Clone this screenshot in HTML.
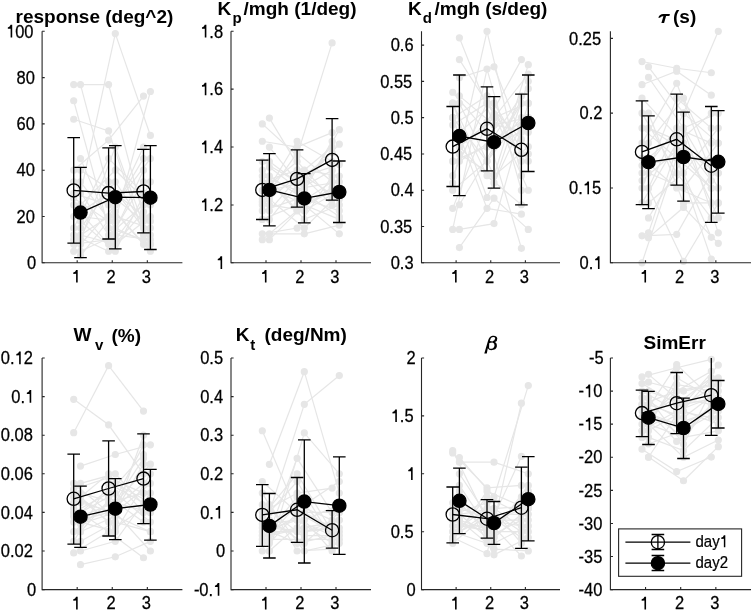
<!DOCTYPE html>
<html><head><meta charset="utf-8"><style>
html,body{margin:0;padding:0;background:#fff;width:751px;height:610px;overflow:hidden}
svg{display:block;will-change:transform}
.tl{font-family:"Liberation Sans",sans-serif;font-size:16.5px;fill:#000;stroke:#000;stroke-width:0.25px}
.lg{font-family:"Liberation Sans",sans-serif;font-size:15px;fill:#000;stroke:#000;stroke-width:0.2px}
.tt{font-family:"Liberation Sans",sans-serif;font-size:19px;font-weight:bold;fill:#000}
.sub{font-size:15px}
.tau{font-style:italic;font-size:20px}
.beta{font-family:"Liberation Serif",serif;font-style:italic;font-size:20px}
</style></head><body>
<svg width="751" height="610" viewBox="0 0 751 610">
<rect width="751" height="610" fill="#fff"/>
<g stroke="#e6e6e6" fill="#e6e6e6" stroke-width="1.2"><polyline fill="none" points="73.7,84.55 108.6,84.55 143.5,216.5"/><circle cx="73.7" cy="84.55" r="3"/><circle cx="108.6" cy="84.55" r="3"/><circle cx="143.5" cy="216.5" r="3"/><polyline fill="none" points="80.5,84.55 115.3,216.5 150.4,228.08"/><circle cx="80.5" cy="84.55" r="3"/><circle cx="115.3" cy="216.5" r="3"/><circle cx="150.4" cy="228.08" r="3"/><polyline fill="none" points="73.7,100.75 108.6,228.08 143.5,239.65"/><circle cx="73.7" cy="100.75" r="3"/><circle cx="108.6" cy="228.08" r="3"/><circle cx="143.5" cy="239.65" r="3"/><polyline fill="none" points="80.5,193.35 115.3,33.62 150.4,135.47"/><circle cx="80.5" cy="193.35" r="3"/><circle cx="115.3" cy="33.62" r="3"/><circle cx="150.4" cy="135.47" r="3"/><polyline fill="none" points="73.7,119.27 108.6,130.85 143.5,235.02"/><circle cx="73.7" cy="119.27" r="3"/><circle cx="108.6" cy="130.85" r="3"/><circle cx="143.5" cy="235.02" r="3"/><polyline fill="none" points="80.5,216.5 115.3,221.13 150.4,91.49"/><circle cx="80.5" cy="216.5" r="3"/><circle cx="115.3" cy="221.13" r="3"/><circle cx="150.4" cy="91.49" r="3"/><polyline fill="none" points="73.7,170.2 108.6,140.11 143.5,96.12"/><circle cx="73.7" cy="170.2" r="3"/><circle cx="108.6" cy="140.11" r="3"/><circle cx="143.5" cy="96.12" r="3"/><polyline fill="none" points="80.5,239.65 115.3,147.05 150.4,244.28"/><circle cx="80.5" cy="239.65" r="3"/><circle cx="115.3" cy="147.05" r="3"/><circle cx="150.4" cy="244.28" r="3"/><polyline fill="none" points="73.7,181.78 108.6,235.02 143.5,204.93"/><circle cx="73.7" cy="181.78" r="3"/><circle cx="108.6" cy="235.02" r="3"/><circle cx="143.5" cy="204.93" r="3"/><polyline fill="none" points="80.5,158.62 115.3,239.65 150.4,193.35"/><circle cx="80.5" cy="158.62" r="3"/><circle cx="115.3" cy="239.65" r="3"/><circle cx="150.4" cy="193.35" r="3"/><polyline fill="none" points="73.7,193.35 108.6,204.93 143.5,244.28"/><circle cx="73.7" cy="193.35" r="3"/><circle cx="108.6" cy="204.93" r="3"/><circle cx="143.5" cy="244.28" r="3"/><polyline fill="none" points="80.5,228.08 115.3,181.78 150.4,235.02"/><circle cx="80.5" cy="228.08" r="3"/><circle cx="115.3" cy="181.78" r="3"/><circle cx="150.4" cy="235.02" r="3"/><polyline fill="none" points="73.7,204.93 108.6,244.28 143.5,170.2"/><circle cx="73.7" cy="204.93" r="3"/><circle cx="108.6" cy="244.28" r="3"/><circle cx="143.5" cy="170.2" r="3"/><polyline fill="none" points="80.5,244.28 115.3,204.93 150.4,158.62"/><circle cx="80.5" cy="244.28" r="3"/><circle cx="115.3" cy="204.93" r="3"/><circle cx="150.4" cy="158.62" r="3"/><polyline fill="none" points="73.7,216.5 108.6,193.35 143.5,221.13"/><circle cx="73.7" cy="216.5" r="3"/><circle cx="108.6" cy="193.35" r="3"/><circle cx="143.5" cy="221.13" r="3"/><polyline fill="none" points="80.5,235.02 115.3,244.28 150.4,216.5"/><circle cx="80.5" cy="235.02" r="3"/><circle cx="115.3" cy="244.28" r="3"/><circle cx="150.4" cy="216.5" r="3"/><polyline fill="none" points="73.7,228.08 108.6,158.62 143.5,193.35"/><circle cx="73.7" cy="228.08" r="3"/><circle cx="108.6" cy="158.62" r="3"/><circle cx="143.5" cy="193.35" r="3"/><polyline fill="none" points="80.5,251.23 115.3,235.02 150.4,239.65"/><circle cx="80.5" cy="251.23" r="3"/><circle cx="115.3" cy="235.02" r="3"/><circle cx="150.4" cy="239.65" r="3"/><polyline fill="none" points="73.7,239.65 108.6,216.5 143.5,158.62"/><circle cx="73.7" cy="239.65" r="3"/><circle cx="108.6" cy="216.5" r="3"/><circle cx="143.5" cy="158.62" r="3"/><polyline fill="none" points="80.5,204.93 115.3,170.2 150.4,204.93"/><circle cx="80.5" cy="204.93" r="3"/><circle cx="115.3" cy="170.2" r="3"/><circle cx="150.4" cy="204.93" r="3"/><polyline fill="none" points="73.7,244.28 108.6,239.65 143.5,181.78"/><circle cx="73.7" cy="244.28" r="3"/><circle cx="108.6" cy="239.65" r="3"/><circle cx="143.5" cy="181.78" r="3"/><polyline fill="none" points="80.5,221.13 115.3,251.23 150.4,181.78"/><circle cx="80.5" cy="221.13" r="3"/><circle cx="115.3" cy="251.23" r="3"/><circle cx="150.4" cy="181.78" r="3"/><polyline fill="none" points="73.7,251.23 108.6,181.78 143.5,228.08"/><circle cx="73.7" cy="251.23" r="3"/><circle cx="108.6" cy="181.78" r="3"/><circle cx="143.5" cy="228.08" r="3"/><polyline fill="none" points="80.5,181.78 115.3,228.08 150.4,244.28"/><circle cx="80.5" cy="181.78" r="3"/><circle cx="115.3" cy="228.08" r="3"/><circle cx="150.4" cy="244.28" r="3"/><polyline fill="none" points="73.7,197.98 108.6,221.13 143.5,147.05"/><circle cx="73.7" cy="197.98" r="3"/><circle cx="108.6" cy="221.13" r="3"/><circle cx="143.5" cy="147.05" r="3"/><polyline fill="none" points="80.5,170.2 115.3,193.35 150.4,221.13"/><circle cx="80.5" cy="170.2" r="3"/><circle cx="115.3" cy="193.35" r="3"/><circle cx="150.4" cy="221.13" r="3"/><polyline fill="none" points="73.7,235.02 108.6,251.23 143.5,211.87"/><circle cx="73.7" cy="235.02" r="3"/><circle cx="108.6" cy="251.23" r="3"/><circle cx="143.5" cy="211.87" r="3"/><polyline fill="none" points="80.5,255.86 115.3,211.87 150.4,251.23"/><circle cx="80.5" cy="255.86" r="3"/><circle cx="115.3" cy="211.87" r="3"/><circle cx="150.4" cy="251.23" r="3"/></g>
<g stroke="#e6e6e6" fill="#e6e6e6" stroke-width="1.2"><polyline fill="none" points="262.3,123.9 297.1,155.73 332.1,42.88"/><circle cx="262.3" cy="123.9" r="3"/><circle cx="297.1" cy="155.73" r="3"/><circle cx="332.1" cy="42.88" r="3"/><polyline fill="none" points="269.4,118.11 304.3,175.99 339.3,199.14"/><circle cx="269.4" cy="118.11" r="3"/><circle cx="304.3" cy="175.99" r="3"/><circle cx="339.3" cy="199.14" r="3"/><polyline fill="none" points="262.3,141.26 297.1,147.05 332.1,132.58"/><circle cx="262.3" cy="141.26" r="3"/><circle cx="297.1" cy="147.05" r="3"/><circle cx="332.1" cy="132.58" r="3"/><polyline fill="none" points="269.4,147.05 304.3,190.46 339.3,129.69"/><circle cx="269.4" cy="147.05" r="3"/><circle cx="304.3" cy="190.46" r="3"/><circle cx="339.3" cy="129.69" r="3"/><polyline fill="none" points="262.3,239.65 297.1,210.71 332.1,190.46"/><circle cx="262.3" cy="239.65" r="3"/><circle cx="297.1" cy="210.71" r="3"/><circle cx="332.1" cy="190.46" r="3"/><polyline fill="none" points="269.4,233.86 304.3,233.86 339.3,225.18"/><circle cx="269.4" cy="233.86" r="3"/><circle cx="304.3" cy="233.86" r="3"/><circle cx="339.3" cy="225.18" r="3"/><polyline fill="none" points="262.3,204.93 297.1,175.99 332.1,147.05"/><circle cx="262.3" cy="204.93" r="3"/><circle cx="297.1" cy="175.99" r="3"/><circle cx="332.1" cy="147.05" r="3"/><polyline fill="none" points="269.4,190.46 304.3,181.78 339.3,144.16"/><circle cx="269.4" cy="190.46" r="3"/><circle cx="304.3" cy="181.78" r="3"/><circle cx="339.3" cy="144.16" r="3"/><polyline fill="none" points="262.3,175.99 297.1,190.46 332.1,170.2"/><circle cx="262.3" cy="175.99" r="3"/><circle cx="297.1" cy="190.46" r="3"/><circle cx="332.1" cy="170.2" r="3"/><polyline fill="none" points="269.4,204.93 304.3,210.71 339.3,190.46"/><circle cx="269.4" cy="204.93" r="3"/><circle cx="304.3" cy="210.71" r="3"/><circle cx="339.3" cy="190.46" r="3"/><polyline fill="none" points="262.3,219.39 297.1,204.93 332.1,181.78"/><circle cx="262.3" cy="219.39" r="3"/><circle cx="297.1" cy="204.93" r="3"/><circle cx="332.1" cy="181.78" r="3"/><polyline fill="none" points="269.4,175.99 304.3,199.14 339.3,210.71"/><circle cx="269.4" cy="175.99" r="3"/><circle cx="304.3" cy="199.14" r="3"/><circle cx="339.3" cy="210.71" r="3"/><polyline fill="none" points="262.3,190.46 297.1,161.52 332.1,199.14"/><circle cx="262.3" cy="190.46" r="3"/><circle cx="297.1" cy="161.52" r="3"/><circle cx="332.1" cy="199.14" r="3"/><polyline fill="none" points="269.4,210.71 304.3,170.2 339.3,175.99"/><circle cx="269.4" cy="210.71" r="3"/><circle cx="304.3" cy="170.2" r="3"/><circle cx="339.3" cy="175.99" r="3"/><polyline fill="none" points="262.3,161.52 297.1,181.78 332.1,152.84"/><circle cx="262.3" cy="161.52" r="3"/><circle cx="297.1" cy="181.78" r="3"/><circle cx="332.1" cy="152.84" r="3"/><polyline fill="none" points="269.4,181.78 304.3,219.39 339.3,204.93"/><circle cx="269.4" cy="181.78" r="3"/><circle cx="304.3" cy="219.39" r="3"/><circle cx="339.3" cy="204.93" r="3"/><polyline fill="none" points="262.3,233.86 297.1,228.07 332.1,175.99"/><circle cx="262.3" cy="233.86" r="3"/><circle cx="297.1" cy="228.07" r="3"/><circle cx="332.1" cy="175.99" r="3"/><polyline fill="none" points="269.4,239.65 304.3,204.93 339.3,219.39"/><circle cx="269.4" cy="239.65" r="3"/><circle cx="304.3" cy="204.93" r="3"/><circle cx="339.3" cy="219.39" r="3"/><polyline fill="none" points="262.3,199.14 297.1,141.26 332.1,161.52"/><circle cx="262.3" cy="199.14" r="3"/><circle cx="297.1" cy="141.26" r="3"/><circle cx="332.1" cy="161.52" r="3"/><polyline fill="none" points="269.4,161.52 304.3,187.56 339.3,181.78"/><circle cx="269.4" cy="161.52" r="3"/><circle cx="304.3" cy="187.56" r="3"/><circle cx="339.3" cy="181.78" r="3"/><polyline fill="none" points="262.3,181.78 297.1,170.2 332.1,204.93"/><circle cx="262.3" cy="181.78" r="3"/><circle cx="297.1" cy="170.2" r="3"/><circle cx="332.1" cy="204.93" r="3"/><polyline fill="none" points="269.4,199.14 304.3,228.07 339.3,193.35"/><circle cx="269.4" cy="199.14" r="3"/><circle cx="304.3" cy="228.07" r="3"/><circle cx="339.3" cy="193.35" r="3"/><polyline fill="none" points="262.3,210.71 297.1,199.14 332.1,141.26"/><circle cx="262.3" cy="210.71" r="3"/><circle cx="297.1" cy="199.14" r="3"/><circle cx="332.1" cy="141.26" r="3"/><polyline fill="none" points="269.4,219.39 304.3,175.99 339.3,164.41"/><circle cx="269.4" cy="219.39" r="3"/><circle cx="304.3" cy="175.99" r="3"/><circle cx="339.3" cy="164.41" r="3"/><polyline fill="none" points="262.3,170.2 297.1,210.71 332.1,187.56"/><circle cx="262.3" cy="170.2" r="3"/><circle cx="297.1" cy="210.71" r="3"/><circle cx="332.1" cy="187.56" r="3"/><polyline fill="none" points="269.4,187.56 304.3,204.93 339.3,233.86"/><circle cx="269.4" cy="187.56" r="3"/><circle cx="304.3" cy="204.93" r="3"/><circle cx="339.3" cy="233.86" r="3"/><polyline fill="none" points="262.3,202.03 297.1,152.84 332.1,181.78"/><circle cx="262.3" cy="202.03" r="3"/><circle cx="297.1" cy="152.84" r="3"/><circle cx="332.1" cy="181.78" r="3"/><polyline fill="none" points="269.4,167.31 304.3,193.35 339.3,216.5"/><circle cx="269.4" cy="167.31" r="3"/><circle cx="304.3" cy="193.35" r="3"/><circle cx="339.3" cy="216.5" r="3"/></g>
<g stroke="#e6e6e6" fill="#e6e6e6" stroke-width="1.2"><polyline fill="none" points="452.7,182.97 487,31.3 521.4,175.72"/><circle cx="452.7" cy="182.97" r="3"/><circle cx="487" cy="31.3" r="3"/><circle cx="521.4" cy="175.72" r="3"/><polyline fill="none" points="459.4,37.83 494,124.92 528.3,117.66"/><circle cx="459.4" cy="37.83" r="3"/><circle cx="494" cy="124.92" r="3"/><circle cx="528.3" cy="117.66" r="3"/><polyline fill="none" points="452.7,208.37 487,122.01 521.4,59.6"/><circle cx="452.7" cy="208.37" r="3"/><circle cx="487" cy="122.01" r="3"/><circle cx="521.4" cy="59.6" r="3"/><polyline fill="none" points="459.4,59.6 494,114.03 528.3,190.23"/><circle cx="459.4" cy="59.6" r="3"/><circle cx="494" cy="114.03" r="3"/><circle cx="528.3" cy="190.23" r="3"/><polyline fill="none" points="452.7,229.42 487,69.04 521.4,190.23"/><circle cx="452.7" cy="229.42" r="3"/><circle cx="487" cy="69.04" r="3"/><circle cx="521.4" cy="190.23" r="3"/><polyline fill="none" points="459.4,229.42 494,223.61 528.3,103.14"/><circle cx="459.4" cy="229.42" r="3"/><circle cx="494" cy="223.61" r="3"/><circle cx="528.3" cy="103.14" r="3"/><polyline fill="none" points="452.7,117.66 487,208.37 521.4,214.18"/><circle cx="452.7" cy="117.66" r="3"/><circle cx="487" cy="208.37" r="3"/><circle cx="521.4" cy="214.18" r="3"/><polyline fill="none" points="459.4,247.56 494,198.21 528.3,229.42"/><circle cx="459.4" cy="247.56" r="3"/><circle cx="494" cy="198.21" r="3"/><circle cx="528.3" cy="229.42" r="3"/><polyline fill="none" points="452.7,92.26 487,132.17 521.4,248.29"/><circle cx="452.7" cy="92.26" r="3"/><circle cx="487" cy="132.17" r="3"/><circle cx="521.4" cy="248.29" r="3"/><polyline fill="none" points="459.4,77.75 494,66.86 528.3,153.94"/><circle cx="459.4" cy="77.75" r="3"/><circle cx="494" cy="66.86" r="3"/><circle cx="528.3" cy="153.94" r="3"/><polyline fill="none" points="452.7,175.72 487,103.14 521.4,153.94"/><circle cx="452.7" cy="175.72" r="3"/><circle cx="487" cy="103.14" r="3"/><circle cx="521.4" cy="153.94" r="3"/><polyline fill="none" points="459.4,153.94 494,175.72 528.3,64.68"/><circle cx="459.4" cy="153.94" r="3"/><circle cx="494" cy="175.72" r="3"/><circle cx="528.3" cy="64.68" r="3"/><polyline fill="none" points="452.7,117.66 487,161.2 521.4,117.66"/><circle cx="452.7" cy="117.66" r="3"/><circle cx="487" cy="161.2" r="3"/><circle cx="521.4" cy="117.66" r="3"/><polyline fill="none" points="459.4,95.89 494,124.92 528.3,132.17"/><circle cx="459.4" cy="95.89" r="3"/><circle cx="494" cy="124.92" r="3"/><circle cx="528.3" cy="132.17" r="3"/><polyline fill="none" points="452.7,124.92 487,103.14 521.4,139.43"/><circle cx="452.7" cy="124.92" r="3"/><circle cx="487" cy="103.14" r="3"/><circle cx="521.4" cy="139.43" r="3"/><polyline fill="none" points="459.4,161.2 494,139.43 528.3,117.66"/><circle cx="459.4" cy="161.2" r="3"/><circle cx="494" cy="139.43" r="3"/><circle cx="528.3" cy="117.66" r="3"/><polyline fill="none" points="452.7,161.2 487,146.69 521.4,95.89"/><circle cx="452.7" cy="161.2" r="3"/><circle cx="487" cy="146.69" r="3"/><circle cx="521.4" cy="95.89" r="3"/><polyline fill="none" points="459.4,103.14 494,175.72 528.3,146.69"/><circle cx="459.4" cy="103.14" r="3"/><circle cx="494" cy="175.72" r="3"/><circle cx="528.3" cy="146.69" r="3"/><polyline fill="none" points="452.7,103.14 487,175.72 521.4,204.74"/><circle cx="452.7" cy="103.14" r="3"/><circle cx="487" cy="175.72" r="3"/><circle cx="521.4" cy="204.74" r="3"/><polyline fill="none" points="459.4,132.17 494,103.14 528.3,161.2"/><circle cx="459.4" cy="132.17" r="3"/><circle cx="494" cy="103.14" r="3"/><circle cx="528.3" cy="161.2" r="3"/><polyline fill="none" points="452.7,161.2 487,146.69 521.4,132.17"/><circle cx="452.7" cy="161.2" r="3"/><circle cx="487" cy="146.69" r="3"/><circle cx="521.4" cy="132.17" r="3"/><polyline fill="none" points="459.4,146.69 494,182.97 528.3,81.37"/><circle cx="459.4" cy="146.69" r="3"/><circle cx="494" cy="182.97" r="3"/><circle cx="528.3" cy="81.37" r="3"/><polyline fill="none" points="452.7,117.66 487,95.89 521.4,161.2"/><circle cx="452.7" cy="117.66" r="3"/><circle cx="487" cy="95.89" r="3"/><circle cx="521.4" cy="161.2" r="3"/><polyline fill="none" points="459.4,146.69 494,117.66 528.3,103.14"/><circle cx="459.4" cy="146.69" r="3"/><circle cx="494" cy="117.66" r="3"/><circle cx="528.3" cy="103.14" r="3"/><polyline fill="none" points="452.7,190.23 487,161.2 521.4,103.14"/><circle cx="452.7" cy="190.23" r="3"/><circle cx="487" cy="161.2" r="3"/><circle cx="521.4" cy="103.14" r="3"/><polyline fill="none" points="459.4,204.74 494,146.69 528.3,88.63"/><circle cx="459.4" cy="204.74" r="3"/><circle cx="494" cy="146.69" r="3"/><circle cx="528.3" cy="88.63" r="3"/><polyline fill="none" points="452.7,103.14 487,197.49 521.4,124.92"/><circle cx="452.7" cy="103.14" r="3"/><circle cx="487" cy="197.49" r="3"/><circle cx="521.4" cy="124.92" r="3"/><polyline fill="none" points="459.4,146.69 494,117.66 528.3,74.12"/><circle cx="459.4" cy="146.69" r="3"/><circle cx="494" cy="117.66" r="3"/><circle cx="528.3" cy="74.12" r="3"/></g>
<g stroke="#e6e6e6" fill="#e6e6e6" stroke-width="1.2"><polyline fill="none" points="642,61.53 676.7,68.26 711.3,72.75"/><circle cx="642" cy="61.53" r="3"/><circle cx="676.7" cy="68.26" r="3"/><circle cx="711.3" cy="72.75" r="3"/><polyline fill="none" points="648.5,66.77 683.5,113.16 718.3,31.3"/><circle cx="648.5" cy="66.77" r="3"/><circle cx="683.5" cy="113.16" r="3"/><circle cx="718.3" cy="31.3" r="3"/><polyline fill="none" points="642,84.72 676.7,71.26 711.3,95.2"/><circle cx="642" cy="84.72" r="3"/><circle cx="676.7" cy="71.26" r="3"/><circle cx="711.3" cy="95.2" r="3"/><polyline fill="none" points="648.5,77.24 683.5,128.12 718.3,113.16"/><circle cx="648.5" cy="77.24" r="3"/><circle cx="683.5" cy="128.12" r="3"/><circle cx="718.3" cy="113.16" r="3"/><polyline fill="none" points="642,235.86 676.7,234.37 711.3,173.01"/><circle cx="642" cy="235.86" r="3"/><circle cx="676.7" cy="234.37" r="3"/><circle cx="711.3" cy="173.01" r="3"/><polyline fill="none" points="648.5,237.66 683.5,207.43 718.3,243.35"/><circle cx="648.5" cy="237.66" r="3"/><circle cx="683.5" cy="207.43" r="3"/><circle cx="718.3" cy="243.35" r="3"/><polyline fill="none" points="642,262.8 676.7,158.05 711.3,259.06"/><circle cx="642" cy="262.8" r="3"/><circle cx="676.7" cy="158.05" r="3"/><circle cx="711.3" cy="259.06" r="3"/><polyline fill="none" points="648.5,187.98 683.5,261.3 718.3,202.94"/><circle cx="648.5" cy="187.98" r="3"/><circle cx="683.5" cy="261.3" r="3"/><circle cx="718.3" cy="202.94" r="3"/><polyline fill="none" points="642,128.12 676.7,158.05 711.3,187.98"/><circle cx="642" cy="128.12" r="3"/><circle cx="676.7" cy="158.05" r="3"/><circle cx="711.3" cy="187.98" r="3"/><polyline fill="none" points="648.5,143.08 683.5,98.19 718.3,173.01"/><circle cx="648.5" cy="143.08" r="3"/><circle cx="683.5" cy="98.19" r="3"/><circle cx="718.3" cy="173.01" r="3"/><polyline fill="none" points="642,173.01 676.7,128.12 711.3,143.08"/><circle cx="642" cy="173.01" r="3"/><circle cx="676.7" cy="128.12" r="3"/><circle cx="711.3" cy="143.08" r="3"/><polyline fill="none" points="648.5,202.94 683.5,173.01 718.3,128.12"/><circle cx="648.5" cy="202.94" r="3"/><circle cx="683.5" cy="173.01" r="3"/><circle cx="718.3" cy="128.12" r="3"/><polyline fill="none" points="642,158.05 676.7,187.98 711.3,202.94"/><circle cx="642" cy="158.05" r="3"/><circle cx="676.7" cy="187.98" r="3"/><circle cx="711.3" cy="202.94" r="3"/><polyline fill="none" points="648.5,128.12 683.5,143.08 718.3,217.91"/><circle cx="648.5" cy="128.12" r="3"/><circle cx="683.5" cy="143.08" r="3"/><circle cx="718.3" cy="217.91" r="3"/><polyline fill="none" points="642,187.98 676.7,98.19 711.3,128.12"/><circle cx="642" cy="187.98" r="3"/><circle cx="676.7" cy="98.19" r="3"/><circle cx="711.3" cy="128.12" r="3"/><polyline fill="none" points="648.5,173.01 683.5,187.98 718.3,143.08"/><circle cx="648.5" cy="173.01" r="3"/><circle cx="683.5" cy="187.98" r="3"/><circle cx="718.3" cy="143.08" r="3"/><polyline fill="none" points="642,113.16 676.7,173.01 711.3,217.91"/><circle cx="642" cy="113.16" r="3"/><circle cx="676.7" cy="173.01" r="3"/><circle cx="711.3" cy="217.91" r="3"/><polyline fill="none" points="648.5,158.05 683.5,128.12 718.3,187.98"/><circle cx="648.5" cy="158.05" r="3"/><circle cx="683.5" cy="128.12" r="3"/><circle cx="718.3" cy="187.98" r="3"/><polyline fill="none" points="642,202.94 676.7,143.08 711.3,113.16"/><circle cx="642" cy="202.94" r="3"/><circle cx="676.7" cy="143.08" r="3"/><circle cx="711.3" cy="113.16" r="3"/><polyline fill="none" points="648.5,217.91 683.5,158.05 718.3,158.05"/><circle cx="648.5" cy="217.91" r="3"/><circle cx="683.5" cy="158.05" r="3"/><circle cx="718.3" cy="158.05" r="3"/><polyline fill="none" points="642,143.08 676.7,83.23 711.3,173.01"/><circle cx="642" cy="143.08" r="3"/><circle cx="676.7" cy="83.23" r="3"/><circle cx="711.3" cy="173.01" r="3"/><polyline fill="none" points="648.5,113.16 683.5,202.94 718.3,202.94"/><circle cx="648.5" cy="113.16" r="3"/><circle cx="683.5" cy="202.94" r="3"/><circle cx="718.3" cy="202.94" r="3"/><polyline fill="none" points="642,165.53 676.7,158.05 711.3,237.36"/><circle cx="642" cy="165.53" r="3"/><circle cx="676.7" cy="158.05" r="3"/><circle cx="711.3" cy="237.36" r="3"/><polyline fill="none" points="648.5,187.98 683.5,113.16 718.3,143.08"/><circle cx="648.5" cy="187.98" r="3"/><circle cx="683.5" cy="113.16" r="3"/><circle cx="718.3" cy="143.08" r="3"/><polyline fill="none" points="642,98.19 676.7,135.6 711.3,180.5"/><circle cx="642" cy="98.19" r="3"/><circle cx="676.7" cy="135.6" r="3"/><circle cx="711.3" cy="180.5" r="3"/><polyline fill="none" points="648.5,128.12 683.5,150.57 718.3,173.01"/><circle cx="648.5" cy="128.12" r="3"/><circle cx="683.5" cy="150.57" r="3"/><circle cx="718.3" cy="173.01" r="3"/><polyline fill="none" points="642,180.5 676.7,150.57 711.3,187.98"/><circle cx="642" cy="180.5" r="3"/><circle cx="676.7" cy="150.57" r="3"/><circle cx="711.3" cy="187.98" r="3"/><polyline fill="none" points="648.5,232.87 683.5,128.12 718.3,232.87"/><circle cx="648.5" cy="232.87" r="3"/><circle cx="683.5" cy="128.12" r="3"/><circle cx="718.3" cy="232.87" r="3"/></g>
<g stroke="#e6e6e6" fill="#e6e6e6" stroke-width="1.2"><polyline fill="none" points="73.7,399.3 108.6,424.78 143.5,473.8"/><circle cx="73.7" cy="399.3" r="3"/><circle cx="108.6" cy="424.78" r="3"/><circle cx="143.5" cy="473.8" r="3"/><polyline fill="none" points="80.5,493.1 115.3,502.75 150.4,512.4"/><circle cx="80.5" cy="493.1" r="3"/><circle cx="115.3" cy="502.75" r="3"/><circle cx="150.4" cy="512.4" r="3"/><polyline fill="none" points="73.7,432.69 108.6,365.72 143.5,411.07"/><circle cx="73.7" cy="432.69" r="3"/><circle cx="108.6" cy="365.72" r="3"/><circle cx="143.5" cy="411.07" r="3"/><polyline fill="none" points="80.5,466.08 115.3,454.5 150.4,444.85"/><circle cx="80.5" cy="466.08" r="3"/><circle cx="115.3" cy="454.5" r="3"/><circle cx="150.4" cy="444.85" r="3"/><polyline fill="none" points="73.7,552.93 108.6,531.7 143.5,557.75"/><circle cx="73.7" cy="552.93" r="3"/><circle cx="108.6" cy="531.7" r="3"/><circle cx="143.5" cy="557.75" r="3"/><polyline fill="none" points="80.5,564.7 115.3,556.79 150.4,541.35"/><circle cx="80.5" cy="564.7" r="3"/><circle cx="115.3" cy="556.79" r="3"/><circle cx="150.4" cy="541.35" r="3"/><polyline fill="none" points="73.7,512.4 108.6,493.1 143.5,454.5"/><circle cx="73.7" cy="512.4" r="3"/><circle cx="108.6" cy="493.1" r="3"/><circle cx="143.5" cy="454.5" r="3"/><polyline fill="none" points="80.5,522.05 115.3,531.7 150.4,473.8"/><circle cx="80.5" cy="522.05" r="3"/><circle cx="115.3" cy="531.7" r="3"/><circle cx="150.4" cy="473.8" r="3"/><polyline fill="none" points="73.7,522.05 108.6,512.4 143.5,483.45"/><circle cx="73.7" cy="522.05" r="3"/><circle cx="108.6" cy="512.4" r="3"/><circle cx="143.5" cy="483.45" r="3"/><polyline fill="none" points="80.5,531.7 115.3,493.1 150.4,522.05"/><circle cx="80.5" cy="531.7" r="3"/><circle cx="115.3" cy="493.1" r="3"/><circle cx="150.4" cy="522.05" r="3"/><polyline fill="none" points="73.7,531.7 108.6,502.75 143.5,493.1"/><circle cx="73.7" cy="531.7" r="3"/><circle cx="108.6" cy="502.75" r="3"/><circle cx="143.5" cy="493.1" r="3"/><polyline fill="none" points="80.5,502.75 115.3,512.4 150.4,483.45"/><circle cx="80.5" cy="502.75" r="3"/><circle cx="115.3" cy="512.4" r="3"/><circle cx="150.4" cy="483.45" r="3"/><polyline fill="none" points="73.7,493.1 108.6,522.05 143.5,464.15"/><circle cx="73.7" cy="493.1" r="3"/><circle cx="108.6" cy="522.05" r="3"/><circle cx="143.5" cy="464.15" r="3"/><polyline fill="none" points="80.5,541.35 115.3,522.05 150.4,531.7"/><circle cx="80.5" cy="541.35" r="3"/><circle cx="115.3" cy="522.05" r="3"/><circle cx="150.4" cy="531.7" r="3"/><polyline fill="none" points="73.7,502.75 108.6,473.8 143.5,512.4"/><circle cx="73.7" cy="502.75" r="3"/><circle cx="108.6" cy="473.8" r="3"/><circle cx="143.5" cy="512.4" r="3"/><polyline fill="none" points="80.5,512.4 115.3,483.45 150.4,502.75"/><circle cx="80.5" cy="512.4" r="3"/><circle cx="115.3" cy="483.45" r="3"/><circle cx="150.4" cy="502.75" r="3"/><polyline fill="none" points="73.7,541.35 108.6,483.45 143.5,502.75"/><circle cx="73.7" cy="541.35" r="3"/><circle cx="108.6" cy="483.45" r="3"/><circle cx="143.5" cy="502.75" r="3"/><polyline fill="none" points="80.5,551 115.3,541.35 150.4,493.1"/><circle cx="80.5" cy="551" r="3"/><circle cx="115.3" cy="541.35" r="3"/><circle cx="150.4" cy="493.1" r="3"/><polyline fill="none" points="73.7,483.45 108.6,512.4 143.5,444.85"/><circle cx="73.7" cy="483.45" r="3"/><circle cx="108.6" cy="512.4" r="3"/><circle cx="143.5" cy="444.85" r="3"/><polyline fill="none" points="80.5,483.45 115.3,473.8 150.4,512.4"/><circle cx="80.5" cy="483.45" r="3"/><circle cx="115.3" cy="473.8" r="3"/><circle cx="150.4" cy="512.4" r="3"/><polyline fill="none" points="73.7,516.26 108.6,496.96 143.5,522.05"/><circle cx="73.7" cy="516.26" r="3"/><circle cx="108.6" cy="496.96" r="3"/><circle cx="143.5" cy="522.05" r="3"/><polyline fill="none" points="80.5,531.7 115.3,516.26 150.4,531.7"/><circle cx="80.5" cy="531.7" r="3"/><circle cx="115.3" cy="516.26" r="3"/><circle cx="150.4" cy="531.7" r="3"/><polyline fill="none" points="73.7,508.54 108.6,531.7 143.5,435.2"/><circle cx="73.7" cy="508.54" r="3"/><circle cx="108.6" cy="531.7" r="3"/><circle cx="143.5" cy="435.2" r="3"/><polyline fill="none" points="80.5,516.26 115.3,502.75 150.4,464.15"/><circle cx="80.5" cy="516.26" r="3"/><circle cx="115.3" cy="502.75" r="3"/><circle cx="150.4" cy="464.15" r="3"/><polyline fill="none" points="73.7,489.24 108.6,477.66 143.5,493.1"/><circle cx="73.7" cy="489.24" r="3"/><circle cx="108.6" cy="477.66" r="3"/><circle cx="143.5" cy="493.1" r="3"/><polyline fill="none" points="80.5,496.96 115.3,527.84 150.4,502.75"/><circle cx="80.5" cy="496.96" r="3"/><circle cx="115.3" cy="527.84" r="3"/><circle cx="150.4" cy="502.75" r="3"/><polyline fill="none" points="73.7,496.96 108.6,512.4 143.5,458.36"/><circle cx="73.7" cy="496.96" r="3"/><circle cx="108.6" cy="512.4" r="3"/><circle cx="143.5" cy="458.36" r="3"/><polyline fill="none" points="80.5,523.98 115.3,512.4 150.4,551"/><circle cx="80.5" cy="523.98" r="3"/><circle cx="115.3" cy="512.4" r="3"/><circle cx="150.4" cy="551" r="3"/></g>
<g stroke="#e6e6e6" fill="#e6e6e6" stroke-width="1.2"><polyline fill="none" points="262.3,430.76 297.1,512.4 332.1,531.7"/><circle cx="262.3" cy="430.76" r="3"/><circle cx="297.1" cy="512.4" r="3"/><circle cx="332.1" cy="531.7" r="3"/><polyline fill="none" points="269.4,464.3 304.3,371.7 339.3,493.1"/><circle cx="269.4" cy="464.3" r="3"/><circle cx="304.3" cy="371.7" r="3"/><circle cx="339.3" cy="493.1" r="3"/><polyline fill="none" points="262.3,551 297.1,458.36 332.1,512.4"/><circle cx="262.3" cy="551" r="3"/><circle cx="297.1" cy="458.36" r="3"/><circle cx="332.1" cy="512.4" r="3"/><polyline fill="none" points="269.4,512.4 304.3,404.32 339.3,375.56"/><circle cx="269.4" cy="512.4" r="3"/><circle cx="304.3" cy="404.32" r="3"/><circle cx="339.3" cy="375.56" r="3"/><polyline fill="none" points="262.3,493.1 297.1,551 332.1,549.07"/><circle cx="262.3" cy="493.1" r="3"/><circle cx="297.1" cy="551" r="3"/><circle cx="332.1" cy="549.07" r="3"/><polyline fill="none" points="269.4,551 304.3,432.88 339.3,473.8"/><circle cx="269.4" cy="551" r="3"/><circle cx="304.3" cy="432.88" r="3"/><circle cx="339.3" cy="473.8" r="3"/><polyline fill="none" points="262.3,512.4 297.1,493.1 332.1,488.08"/><circle cx="262.3" cy="512.4" r="3"/><circle cx="297.1" cy="493.1" r="3"/><circle cx="332.1" cy="488.08" r="3"/><polyline fill="none" points="269.4,531.7 304.3,512.4 339.3,531.7"/><circle cx="269.4" cy="531.7" r="3"/><circle cx="304.3" cy="512.4" r="3"/><circle cx="339.3" cy="531.7" r="3"/><polyline fill="none" points="262.3,531.7 297.1,520.12 332.1,543.28"/><circle cx="262.3" cy="531.7" r="3"/><circle cx="297.1" cy="520.12" r="3"/><circle cx="332.1" cy="543.28" r="3"/><polyline fill="none" points="269.4,520.12 304.3,543.28 339.3,512.4"/><circle cx="269.4" cy="520.12" r="3"/><circle cx="304.3" cy="543.28" r="3"/><circle cx="339.3" cy="512.4" r="3"/><polyline fill="none" points="262.3,504.68 297.1,531.7 332.1,527.84"/><circle cx="262.3" cy="504.68" r="3"/><circle cx="297.1" cy="531.7" r="3"/><circle cx="332.1" cy="527.84" r="3"/><polyline fill="none" points="269.4,535.56 304.3,527.84 339.3,520.12"/><circle cx="269.4" cy="535.56" r="3"/><circle cx="304.3" cy="527.84" r="3"/><circle cx="339.3" cy="520.12" r="3"/><polyline fill="none" points="262.3,520.12 297.1,481.52 332.1,539.42"/><circle cx="262.3" cy="520.12" r="3"/><circle cx="297.1" cy="481.52" r="3"/><circle cx="332.1" cy="539.42" r="3"/><polyline fill="none" points="269.4,504.68 304.3,551 339.3,543.28"/><circle cx="269.4" cy="504.68" r="3"/><circle cx="304.3" cy="551" r="3"/><circle cx="339.3" cy="543.28" r="3"/><polyline fill="none" points="262.3,543.28 297.1,504.68 332.1,520.12"/><circle cx="262.3" cy="543.28" r="3"/><circle cx="297.1" cy="504.68" r="3"/><circle cx="332.1" cy="520.12" r="3"/><polyline fill="none" points="269.4,551 304.3,520.12 339.3,504.68"/><circle cx="269.4" cy="551" r="3"/><circle cx="304.3" cy="520.12" r="3"/><circle cx="339.3" cy="504.68" r="3"/><polyline fill="none" points="262.3,527.84 297.1,543.28 332.1,535.56"/><circle cx="262.3" cy="527.84" r="3"/><circle cx="297.1" cy="543.28" r="3"/><circle cx="332.1" cy="535.56" r="3"/><polyline fill="none" points="269.4,527.84 304.3,531.7 339.3,527.84"/><circle cx="269.4" cy="527.84" r="3"/><circle cx="304.3" cy="531.7" r="3"/><circle cx="339.3" cy="527.84" r="3"/><polyline fill="none" points="262.3,481.52 297.1,512.4 332.1,551"/><circle cx="262.3" cy="481.52" r="3"/><circle cx="297.1" cy="512.4" r="3"/><circle cx="332.1" cy="551" r="3"/><polyline fill="none" points="269.4,543.28 304.3,504.68 339.3,481.52"/><circle cx="269.4" cy="543.28" r="3"/><circle cx="304.3" cy="504.68" r="3"/><circle cx="339.3" cy="481.52" r="3"/><polyline fill="none" points="262.3,535.56 297.1,527.84 332.1,523.98"/><circle cx="262.3" cy="535.56" r="3"/><circle cx="297.1" cy="527.84" r="3"/><circle cx="332.1" cy="523.98" r="3"/><polyline fill="none" points="269.4,523.98 304.3,535.56 339.3,535.56"/><circle cx="269.4" cy="523.98" r="3"/><circle cx="304.3" cy="535.56" r="3"/><circle cx="339.3" cy="535.56" r="3"/><polyline fill="none" points="262.3,516.26 297.1,473.8 332.1,531.7"/><circle cx="262.3" cy="516.26" r="3"/><circle cx="297.1" cy="473.8" r="3"/><circle cx="332.1" cy="531.7" r="3"/><polyline fill="none" points="269.4,512.4 304.3,512.4 339.3,512.4"/><circle cx="269.4" cy="512.4" r="3"/><circle cx="304.3" cy="512.4" r="3"/><circle cx="339.3" cy="512.4" r="3"/><polyline fill="none" points="262.3,523.98 297.1,520.12 332.1,535.56"/><circle cx="262.3" cy="523.98" r="3"/><circle cx="297.1" cy="520.12" r="3"/><circle cx="332.1" cy="535.56" r="3"/><polyline fill="none" points="269.4,539.42 304.3,539.42 339.3,539.42"/><circle cx="269.4" cy="539.42" r="3"/><circle cx="304.3" cy="539.42" r="3"/><circle cx="339.3" cy="539.42" r="3"/><polyline fill="none" points="262.3,539.42 297.1,496.96 332.1,535.56"/><circle cx="262.3" cy="539.42" r="3"/><circle cx="297.1" cy="496.96" r="3"/><circle cx="332.1" cy="535.56" r="3"/><polyline fill="none" points="269.4,531.7 304.3,531.7 339.3,520.12"/><circle cx="269.4" cy="531.7" r="3"/><circle cx="304.3" cy="531.7" r="3"/><circle cx="339.3" cy="520.12" r="3"/></g>
<g stroke="#e6e6e6" fill="#e6e6e6" stroke-width="1.2"><polyline fill="none" points="452.7,450.64 487,520.12 521.4,556.02"/><circle cx="452.7" cy="450.64" r="3"/><circle cx="487" cy="520.12" r="3"/><circle cx="521.4" cy="556.02" r="3"/><polyline fill="none" points="459.4,457.59 494,496.96 528.3,385.56"/><circle cx="459.4" cy="457.59" r="3"/><circle cx="494" cy="496.96" r="3"/><circle cx="528.3" cy="385.56" r="3"/><polyline fill="none" points="452.7,452.96 487,487.93 521.4,485.38"/><circle cx="452.7" cy="452.96" r="3"/><circle cx="487" cy="487.93" r="3"/><circle cx="521.4" cy="485.38" r="3"/><polyline fill="none" points="459.4,462.22 494,462.22 528.3,473.8"/><circle cx="459.4" cy="462.22" r="3"/><circle cx="494" cy="462.22" r="3"/><circle cx="528.3" cy="473.8" r="3"/><polyline fill="none" points="452.7,537.49 487,553.7 521.4,403.16"/><circle cx="452.7" cy="537.49" r="3"/><circle cx="487" cy="553.7" r="3"/><circle cx="521.4" cy="403.16" r="3"/><polyline fill="none" points="459.4,520.12 494,549.07 528.3,550.92"/><circle cx="459.4" cy="520.12" r="3"/><circle cx="494" cy="549.07" r="3"/><circle cx="528.3" cy="550.92" r="3"/><polyline fill="none" points="452.7,520.12 487,531.7 521.4,456.43"/><circle cx="452.7" cy="520.12" r="3"/><circle cx="487" cy="531.7" r="3"/><circle cx="521.4" cy="456.43" r="3"/><polyline fill="none" points="459.4,485.38 494,537.49 528.3,508.54"/><circle cx="459.4" cy="485.38" r="3"/><circle cx="494" cy="537.49" r="3"/><circle cx="528.3" cy="508.54" r="3"/><polyline fill="none" points="452.7,531.7 487,508.54 521.4,531.7"/><circle cx="452.7" cy="531.7" r="3"/><circle cx="487" cy="508.54" r="3"/><circle cx="521.4" cy="531.7" r="3"/><polyline fill="none" points="459.4,508.54 494,520.12 528.3,520.12"/><circle cx="459.4" cy="508.54" r="3"/><circle cx="494" cy="520.12" r="3"/><circle cx="528.3" cy="520.12" r="3"/><polyline fill="none" points="452.7,508.54 487,537.49 521.4,520.12"/><circle cx="452.7" cy="508.54" r="3"/><circle cx="487" cy="537.49" r="3"/><circle cx="521.4" cy="520.12" r="3"/><polyline fill="none" points="459.4,525.91 494,531.7 528.3,485.38"/><circle cx="459.4" cy="525.91" r="3"/><circle cx="494" cy="531.7" r="3"/><circle cx="528.3" cy="485.38" r="3"/><polyline fill="none" points="452.7,543.28 487,514.33 521.4,537.49"/><circle cx="452.7" cy="543.28" r="3"/><circle cx="487" cy="514.33" r="3"/><circle cx="521.4" cy="537.49" r="3"/><polyline fill="none" points="459.4,496.96 494,543.28 528.3,525.91"/><circle cx="459.4" cy="496.96" r="3"/><circle cx="494" cy="543.28" r="3"/><circle cx="528.3" cy="525.91" r="3"/><polyline fill="none" points="452.7,525.91 487,525.91 521.4,508.54"/><circle cx="452.7" cy="525.91" r="3"/><circle cx="487" cy="525.91" r="3"/><circle cx="521.4" cy="508.54" r="3"/><polyline fill="none" points="459.4,514.33 494,508.54 528.3,531.7"/><circle cx="459.4" cy="514.33" r="3"/><circle cx="494" cy="508.54" r="3"/><circle cx="528.3" cy="531.7" r="3"/><polyline fill="none" points="452.7,514.33 487,502.75 521.4,543.28"/><circle cx="452.7" cy="514.33" r="3"/><circle cx="487" cy="502.75" r="3"/><circle cx="521.4" cy="543.28" r="3"/><polyline fill="none" points="459.4,473.8 494,525.91 528.3,496.96"/><circle cx="459.4" cy="473.8" r="3"/><circle cx="494" cy="525.91" r="3"/><circle cx="528.3" cy="496.96" r="3"/><polyline fill="none" points="452.7,531.7 487,543.28 521.4,496.96"/><circle cx="452.7" cy="531.7" r="3"/><circle cx="487" cy="543.28" r="3"/><circle cx="521.4" cy="496.96" r="3"/><polyline fill="none" points="459.4,531.7 494,514.33 528.3,514.33"/><circle cx="459.4" cy="531.7" r="3"/><circle cx="494" cy="514.33" r="3"/><circle cx="528.3" cy="514.33" r="3"/><polyline fill="none" points="452.7,502.75 487,520.12 521.4,525.91"/><circle cx="452.7" cy="502.75" r="3"/><circle cx="487" cy="520.12" r="3"/><circle cx="521.4" cy="525.91" r="3"/><polyline fill="none" points="459.4,491.17 494,554.86 528.3,537.49"/><circle cx="459.4" cy="491.17" r="3"/><circle cx="494" cy="554.86" r="3"/><circle cx="528.3" cy="537.49" r="3"/><polyline fill="none" points="452.7,537.49 487,496.96 521.4,514.33"/><circle cx="452.7" cy="537.49" r="3"/><circle cx="487" cy="496.96" r="3"/><circle cx="521.4" cy="514.33" r="3"/><polyline fill="none" points="459.4,520.12 494,531.7 528.3,491.17"/><circle cx="459.4" cy="520.12" r="3"/><circle cx="494" cy="531.7" r="3"/><circle cx="528.3" cy="491.17" r="3"/><polyline fill="none" points="452.7,520.12 487,531.7 521.4,531.7"/><circle cx="452.7" cy="520.12" r="3"/><circle cx="487" cy="531.7" r="3"/><circle cx="521.4" cy="531.7" r="3"/><polyline fill="none" points="459.4,502.75 494,537.49 528.3,508.54"/><circle cx="459.4" cy="502.75" r="3"/><circle cx="494" cy="537.49" r="3"/><circle cx="528.3" cy="508.54" r="3"/><polyline fill="none" points="452.7,540.96 487,491.17 521.4,506.22"/><circle cx="452.7" cy="540.96" r="3"/><circle cx="487" cy="491.17" r="3"/><circle cx="521.4" cy="506.22" r="3"/><polyline fill="none" points="459.4,531.7 494,508.54 528.3,506.22"/><circle cx="459.4" cy="531.7" r="3"/><circle cx="494" cy="508.54" r="3"/><circle cx="528.3" cy="506.22" r="3"/></g>
<g stroke="#e6e6e6" fill="#e6e6e6" stroke-width="1.2"><polyline fill="none" points="642,376.93 676.7,367.73 711.3,359.32"/><circle cx="642" cy="376.93" r="3"/><circle cx="676.7" cy="367.73" r="3"/><circle cx="711.3" cy="359.32" r="3"/><polyline fill="none" points="648.5,374.34 683.5,404.32 718.3,365.08"/><circle cx="648.5" cy="374.34" r="3"/><circle cx="683.5" cy="404.32" r="3"/><circle cx="718.3" cy="365.08" r="3"/><polyline fill="none" points="642,383.54 676.7,404.32 711.3,377.85"/><circle cx="642" cy="383.54" r="3"/><circle cx="676.7" cy="404.32" r="3"/><circle cx="711.3" cy="377.85" r="3"/><polyline fill="none" points="648.5,382.22 683.5,391.09 718.3,384.47"/><circle cx="648.5" cy="382.22" r="3"/><circle cx="683.5" cy="391.09" r="3"/><circle cx="718.3" cy="384.47" r="3"/><polyline fill="none" points="642,449.18 676.7,471.48 711.3,457.06"/><circle cx="642" cy="449.18" r="3"/><circle cx="676.7" cy="471.48" r="3"/><circle cx="711.3" cy="457.06" r="3"/><polyline fill="none" points="648.5,457.06 683.5,480.75 718.3,446.67"/><circle cx="648.5" cy="457.06" r="3"/><circle cx="683.5" cy="480.75" r="3"/><circle cx="718.3" cy="446.67" r="3"/><polyline fill="none" points="642,404.32 676.7,441.38 711.3,404.32"/><circle cx="642" cy="404.32" r="3"/><circle cx="676.7" cy="441.38" r="3"/><circle cx="711.3" cy="404.32" r="3"/><polyline fill="none" points="648.5,424.17 683.5,457.26 718.3,440.05"/><circle cx="648.5" cy="424.17" r="3"/><circle cx="683.5" cy="457.26" r="3"/><circle cx="718.3" cy="440.05" r="3"/><polyline fill="none" points="642,424.17 676.7,391.09 711.3,384.47"/><circle cx="642" cy="424.17" r="3"/><circle cx="676.7" cy="391.09" r="3"/><circle cx="711.3" cy="384.47" r="3"/><polyline fill="none" points="648.5,404.32 683.5,417.55 718.3,391.09"/><circle cx="648.5" cy="404.32" r="3"/><circle cx="683.5" cy="417.55" r="3"/><circle cx="718.3" cy="391.09" r="3"/><polyline fill="none" points="642,391.09 676.7,410.94 711.3,417.55"/><circle cx="642" cy="391.09" r="3"/><circle cx="676.7" cy="410.94" r="3"/><circle cx="711.3" cy="417.55" r="3"/><polyline fill="none" points="648.5,444.02 683.5,430.79 718.3,410.94"/><circle cx="648.5" cy="444.02" r="3"/><circle cx="683.5" cy="430.79" r="3"/><circle cx="718.3" cy="410.94" r="3"/><polyline fill="none" points="642,430.79 676.7,384.47 711.3,391.09"/><circle cx="642" cy="430.79" r="3"/><circle cx="676.7" cy="384.47" r="3"/><circle cx="711.3" cy="391.09" r="3"/><polyline fill="none" points="648.5,397.7 683.5,444.02 718.3,377.85"/><circle cx="648.5" cy="397.7" r="3"/><circle cx="683.5" cy="444.02" r="3"/><circle cx="718.3" cy="377.85" r="3"/><polyline fill="none" points="642,417.55 676.7,397.7 711.3,404.32"/><circle cx="642" cy="417.55" r="3"/><circle cx="676.7" cy="397.7" r="3"/><circle cx="711.3" cy="404.32" r="3"/><polyline fill="none" points="648.5,430.79 683.5,410.94 718.3,424.17"/><circle cx="648.5" cy="430.79" r="3"/><circle cx="683.5" cy="410.94" r="3"/><circle cx="718.3" cy="424.17" r="3"/><polyline fill="none" points="642,397.7 676.7,417.55 711.3,377.85"/><circle cx="642" cy="397.7" r="3"/><circle cx="676.7" cy="417.55" r="3"/><circle cx="711.3" cy="377.85" r="3"/><polyline fill="none" points="648.5,410.94 683.5,437.41 718.3,397.7"/><circle cx="648.5" cy="410.94" r="3"/><circle cx="683.5" cy="437.41" r="3"/><circle cx="718.3" cy="397.7" r="3"/><polyline fill="none" points="642,437.41 676.7,377.85 711.3,397.7"/><circle cx="642" cy="437.41" r="3"/><circle cx="676.7" cy="377.85" r="3"/><circle cx="711.3" cy="397.7" r="3"/><polyline fill="none" points="648.5,417.55 683.5,424.17 718.3,404.32"/><circle cx="648.5" cy="417.55" r="3"/><circle cx="683.5" cy="424.17" r="3"/><circle cx="718.3" cy="404.32" r="3"/><polyline fill="none" points="642,410.94 676.7,424.17 711.3,410.94"/><circle cx="642" cy="410.94" r="3"/><circle cx="676.7" cy="424.17" r="3"/><circle cx="711.3" cy="410.94" r="3"/><polyline fill="none" points="648.5,437.41 683.5,450.64 718.3,417.55"/><circle cx="648.5" cy="437.41" r="3"/><circle cx="683.5" cy="450.64" r="3"/><circle cx="718.3" cy="417.55" r="3"/><polyline fill="none" points="642,404.32 676.7,391.09 711.3,371.23"/><circle cx="642" cy="404.32" r="3"/><circle cx="676.7" cy="391.09" r="3"/><circle cx="711.3" cy="371.23" r="3"/><polyline fill="none" points="648.5,391.09 683.5,404.32 718.3,384.47"/><circle cx="648.5" cy="391.09" r="3"/><circle cx="683.5" cy="404.32" r="3"/><circle cx="718.3" cy="384.47" r="3"/><polyline fill="none" points="642,430.79 676.7,410.94 711.3,397.7"/><circle cx="642" cy="430.79" r="3"/><circle cx="676.7" cy="410.94" r="3"/><circle cx="711.3" cy="397.7" r="3"/><polyline fill="none" points="648.5,424.17 683.5,437.41 718.3,430.79"/><circle cx="648.5" cy="424.17" r="3"/><circle cx="683.5" cy="437.41" r="3"/><circle cx="718.3" cy="430.79" r="3"/><polyline fill="none" points="642,417.55 676.7,364.62 711.3,397.7"/><circle cx="642" cy="417.55" r="3"/><circle cx="676.7" cy="364.62" r="3"/><circle cx="711.3" cy="397.7" r="3"/><polyline fill="none" points="648.5,457.26 683.5,404.32 718.3,397.7"/><circle cx="648.5" cy="457.26" r="3"/><circle cx="683.5" cy="404.32" r="3"/><circle cx="718.3" cy="397.7" r="3"/></g>
<path d="M42.1 31.3V262.8H182.4" fill="none" stroke="#262626" stroke-width="1.1"/><path d="M42.1 262.8h2.6M42.1 216.5h2.6M42.1 170.2h2.6M42.1 123.9h2.6M42.1 77.6h2.6M42.1 31.3h2.6M77.18 262.8v-2.6M112.25 262.8v-2.6M147.33 262.8v-2.6" stroke="#262626" stroke-width="1.1"/><text transform="translate(0 269) scale(1 1.07)" x="27.05" y="0" class="tl">0</text><text transform="translate(0 222.7) scale(1 1.07)" x="16.54 25.71" y="0" class="tl">20</text><text transform="translate(0 176.4) scale(1 1.07)" x="16.54 25.71" y="0" class="tl">40</text><text transform="translate(0 130.1) scale(1 1.07)" x="16.54 25.71" y="0" class="tl">60</text><text transform="translate(0 83.8) scale(1 1.07)" x="16.54 25.71" y="0" class="tl">80</text><text transform="translate(0 37.5) scale(1 1.07)" x="15.2 24.37" y="0" class="tl">00</text><path transform="translate(6.02 37.5)" d="M4.6 -12.7L6.2 -12.7L6.2 0L4.6 0L4.6 -8.85L1.8 -8.7L1.8 -10.1Q4 -10.3 4.6 -12.7Z"/><path transform="translate(71.49 282.6)" d="M4.6 -12.7L6.2 -12.7L6.2 0L4.6 0L4.6 -8.85L1.8 -8.7L1.8 -10.1Q4 -10.3 4.6 -12.7Z"/><text transform="translate(0 282.6) scale(1 1.07)" x="106.56" y="0" class="tl">2</text><text transform="translate(0 282.6) scale(1 1.07)" x="141.64" y="0" class="tl">3</text>
<polyline points="73.7,190.4 108.6,193.1 143.5,191.5" fill="none" stroke="#000" stroke-width="1.3"/><path d="M73.7 137.6V243.1M67.4 137.6h12.6M67.4 243.1h12.6M108.6 147.9V239M102.3 147.9h12.6M102.3 239h12.6M143.5 149.3V232.8M137.2 149.3h12.6M137.2 232.8h12.6" stroke="#000" stroke-width="1.3"/><circle cx="73.7" cy="190.4" r="6.6" fill="none" stroke="#000" stroke-width="1.3"/><circle cx="108.6" cy="193.1" r="6.6" fill="none" stroke="#000" stroke-width="1.3"/><circle cx="143.5" cy="191.5" r="6.6" fill="none" stroke="#000" stroke-width="1.3"/>
<polyline points="80.5,212.6 115.3,197.2 150.4,197.7" fill="none" stroke="#000" stroke-width="1.3"/><path d="M80.5 167.4V257.6M74.2 167.4h12.6M74.2 257.6h12.6M115.3 145.6V248.9M109 145.6h12.6M109 248.9h12.6M150.4 145.6V249.5M144.1 145.6h12.6M144.1 249.5h12.6" stroke="#000" stroke-width="1.3"/><circle cx="80.5" cy="212.6" r="6.6" fill="#000" stroke="#000" stroke-width="1.3"/><circle cx="115.3" cy="197.2" r="6.6" fill="#000" stroke="#000" stroke-width="1.3"/><circle cx="150.4" cy="197.7" r="6.6" fill="#000" stroke="#000" stroke-width="1.3"/>
<path d="M231 31.3V262.8H371" fill="none" stroke="#262626" stroke-width="1.1"/><path d="M231 262.8h2.6M231 204.93h2.6M231 147.05h2.6M231 89.17h2.6M231 31.3h2.6M266 262.8v-2.6M301 262.8v-2.6M336 262.8v-2.6" stroke="#262626" stroke-width="1.1"/><path transform="translate(215.95 269)" d="M4.6 -12.7L6.2 -12.7L6.2 0L4.6 0L4.6 -8.85L1.8 -8.7L1.8 -10.1Q4 -10.3 4.6 -12.7Z"/><text transform="translate(0 211.12) scale(1 1.07)" x="209.36 213.94" y="0" class="tl">.2</text><path transform="translate(200.18 211.12)" d="M4.6 -12.7L6.2 -12.7L6.2 0L4.6 0L4.6 -8.85L1.8 -8.7L1.8 -10.1Q4 -10.3 4.6 -12.7Z"/><text transform="translate(0 153.25) scale(1 1.07)" x="209.36 213.94" y="0" class="tl">.4</text><path transform="translate(200.18 153.25)" d="M4.6 -12.7L6.2 -12.7L6.2 0L4.6 0L4.6 -8.85L1.8 -8.7L1.8 -10.1Q4 -10.3 4.6 -12.7Z"/><text transform="translate(0 95.37) scale(1 1.07)" x="209.36 213.94" y="0" class="tl">.6</text><path transform="translate(200.18 95.37)" d="M4.6 -12.7L6.2 -12.7L6.2 0L4.6 0L4.6 -8.85L1.8 -8.7L1.8 -10.1Q4 -10.3 4.6 -12.7Z"/><text transform="translate(0 37.5) scale(1 1.07)" x="209.36 213.94" y="0" class="tl">.8</text><path transform="translate(200.18 37.5)" d="M4.6 -12.7L6.2 -12.7L6.2 0L4.6 0L4.6 -8.85L1.8 -8.7L1.8 -10.1Q4 -10.3 4.6 -12.7Z"/><path transform="translate(260.31 282.6)" d="M4.6 -12.7L6.2 -12.7L6.2 0L4.6 0L4.6 -8.85L1.8 -8.7L1.8 -10.1Q4 -10.3 4.6 -12.7Z"/><text transform="translate(0 282.6) scale(1 1.07)" x="295.31" y="0" class="tl">2</text><text transform="translate(0 282.6) scale(1 1.07)" x="330.31" y="0" class="tl">3</text>
<polyline points="262.3,189.9 297.1,178.9 332.1,159.9" fill="none" stroke="#000" stroke-width="1.3"/><path d="M262.3 160.1V219.5M256 160.1h12.6M256 219.5h12.6M297.1 149.8V207.1M290.8 149.8h12.6M290.8 207.1h12.6M332.1 118.7V200.2M325.8 118.7h12.6M325.8 200.2h12.6" stroke="#000" stroke-width="1.3"/><circle cx="262.3" cy="189.9" r="6.6" fill="none" stroke="#000" stroke-width="1.3"/><circle cx="297.1" cy="178.9" r="6.6" fill="none" stroke="#000" stroke-width="1.3"/><circle cx="332.1" cy="159.9" r="6.6" fill="none" stroke="#000" stroke-width="1.3"/>
<polyline points="269.4,189.9 304.3,198.4 339.3,192" fill="none" stroke="#000" stroke-width="1.3"/><path d="M269.4 153.7V225.9M263.1 153.7h12.6M263.1 225.9h12.6M304.3 173.6V222.9M298 173.6h12.6M298 222.9h12.6M339.3 161V222.5M333 161h12.6M333 222.5h12.6" stroke="#000" stroke-width="1.3"/><circle cx="269.4" cy="189.9" r="6.6" fill="#000" stroke="#000" stroke-width="1.3"/><circle cx="304.3" cy="198.4" r="6.6" fill="#000" stroke="#000" stroke-width="1.3"/><circle cx="339.3" cy="192" r="6.6" fill="#000" stroke="#000" stroke-width="1.3"/>
<path d="M421.5 31.3V262.8H560" fill="none" stroke="#262626" stroke-width="1.1"/><path d="M421.5 262.8h2.6M421.5 226.51h2.6M421.5 190.23h2.6M421.5 153.94h2.6M421.5 117.66h2.6M421.5 81.37h2.6M421.5 45.09h2.6M456.12 262.8v-2.6M490.75 262.8v-2.6M525.38 262.8v-2.6" stroke="#262626" stroke-width="1.1"/><text transform="translate(0 269) scale(1 1.07)" x="390.68 399.86 404.44" y="0" class="tl">0.3</text><text transform="translate(0 232.71) scale(1 1.07)" x="380.17 389.34 393.93 403.1" y="0" class="tl">0.35</text><text transform="translate(0 196.43) scale(1 1.07)" x="390.68 399.86 404.44" y="0" class="tl">0.4</text><text transform="translate(0 160.14) scale(1 1.07)" x="380.17 389.34 393.93 403.1" y="0" class="tl">0.45</text><text transform="translate(0 123.86) scale(1 1.07)" x="390.68 399.86 404.44" y="0" class="tl">0.5</text><text transform="translate(0 87.57) scale(1 1.07)" x="380.17 389.34 393.93 403.1" y="0" class="tl">0.55</text><text transform="translate(0 51.29) scale(1 1.07)" x="390.68 399.86 404.44" y="0" class="tl">0.6</text><path transform="translate(450.44 282.6)" d="M4.6 -12.7L6.2 -12.7L6.2 0L4.6 0L4.6 -8.85L1.8 -8.7L1.8 -10.1Q4 -10.3 4.6 -12.7Z"/><text transform="translate(0 282.6) scale(1 1.07)" x="485.06" y="0" class="tl">2</text><text transform="translate(0 282.6) scale(1 1.07)" x="519.69" y="0" class="tl">3</text>
<polyline points="452.7,146.6 487,128.8 521.4,149.8" fill="none" stroke="#000" stroke-width="1.3"/><path d="M452.7 106.5V186.5M446.4 106.5h12.6M446.4 186.5h12.6M487 86.8V170.8M480.7 86.8h12.6M480.7 170.8h12.6M521.4 94.1V204.9M515.1 94.1h12.6M515.1 204.9h12.6" stroke="#000" stroke-width="1.3"/><circle cx="452.7" cy="146.6" r="6.6" fill="none" stroke="#000" stroke-width="1.3"/><circle cx="487" cy="128.8" r="6.6" fill="none" stroke="#000" stroke-width="1.3"/><circle cx="521.4" cy="149.8" r="6.6" fill="none" stroke="#000" stroke-width="1.3"/>
<polyline points="459.4,136.1 494,142.2 528.3,123" fill="none" stroke="#000" stroke-width="1.3"/><path d="M459.4 75V195.7M453.1 75h12.6M453.1 195.7h12.6M494 96.7V188.1M487.7 96.7h12.6M487.7 188.1h12.6M528.3 75V171.5M522 75h12.6M522 171.5h12.6" stroke="#000" stroke-width="1.3"/><circle cx="459.4" cy="136.1" r="6.6" fill="#000" stroke="#000" stroke-width="1.3"/><circle cx="494" cy="142.2" r="6.6" fill="#000" stroke="#000" stroke-width="1.3"/><circle cx="528.3" cy="123" r="6.6" fill="#000" stroke="#000" stroke-width="1.3"/>
<path d="M610.4 31.3V262.8H751" fill="none" stroke="#262626" stroke-width="1.1"/><path d="M610.4 262.8h2.6M610.4 187.98h2.6M610.4 113.16h2.6M610.4 38.33h2.6M645.55 262.8v-2.6M680.7 262.8v-2.6M715.85 262.8v-2.6" stroke="#262626" stroke-width="1.1"/><text transform="translate(0 269) scale(1 1.07)" x="579.58 588.76" y="0" class="tl">0.</text><path transform="translate(593.34 269)" d="M4.6 -12.7L6.2 -12.7L6.2 0L4.6 0L4.6 -8.85L1.8 -8.7L1.8 -10.1Q4 -10.3 4.6 -12.7Z"/><text transform="translate(0 194.18) scale(1 1.07)" x="569.07 578.24 592" y="0" class="tl">0.5</text><path transform="translate(582.83 194.18)" d="M4.6 -12.7L6.2 -12.7L6.2 0L4.6 0L4.6 -8.85L1.8 -8.7L1.8 -10.1Q4 -10.3 4.6 -12.7Z"/><text transform="translate(0 119.36) scale(1 1.07)" x="579.58 588.76 593.34" y="0" class="tl">0.2</text><text transform="translate(0 44.53) scale(1 1.07)" x="569.07 578.24 582.83 592" y="0" class="tl">0.25</text><path transform="translate(639.86 282.6)" d="M4.6 -12.7L6.2 -12.7L6.2 0L4.6 0L4.6 -8.85L1.8 -8.7L1.8 -10.1Q4 -10.3 4.6 -12.7Z"/><text transform="translate(0 282.6) scale(1 1.07)" x="675.01" y="0" class="tl">2</text><text transform="translate(0 282.6) scale(1 1.07)" x="710.16" y="0" class="tl">3</text>
<polyline points="642,151.9 676.7,139.3 711.3,165.7" fill="none" stroke="#000" stroke-width="1.3"/><path d="M642 100.8V204.7M635.7 100.8h12.6M635.7 204.7h12.6M676.7 94.1V185.2M670.4 94.1h12.6M670.4 185.2h12.6M711.3 106.5V222.3M705 106.5h12.6M705 222.3h12.6" stroke="#000" stroke-width="1.3"/><circle cx="642" cy="151.9" r="6.6" fill="none" stroke="#000" stroke-width="1.3"/><circle cx="676.7" cy="139.3" r="6.6" fill="none" stroke="#000" stroke-width="1.3"/><circle cx="711.3" cy="165.7" r="6.6" fill="none" stroke="#000" stroke-width="1.3"/>
<polyline points="648.5,162.2 683.5,157 718.3,161.8" fill="none" stroke="#000" stroke-width="1.3"/><path d="M648.5 115.9V208.6M642.2 115.9h12.6M642.2 208.6h12.6M683.5 112.2V201.2M677.2 112.2h12.6M677.2 201.2h12.6M718.3 110.6V213.2M712 110.6h12.6M712 213.2h12.6" stroke="#000" stroke-width="1.3"/><circle cx="648.5" cy="162.2" r="6.6" fill="#000" stroke="#000" stroke-width="1.3"/><circle cx="683.5" cy="157" r="6.6" fill="#000" stroke="#000" stroke-width="1.3"/><circle cx="718.3" cy="161.8" r="6.6" fill="#000" stroke="#000" stroke-width="1.3"/>
<path d="M42.1 358V589.6H182.4" fill="none" stroke="#262626" stroke-width="1.1"/><path d="M42.1 589.6h2.6M42.1 551h2.6M42.1 512.4h2.6M42.1 473.8h2.6M42.1 435.2h2.6M42.1 396.6h2.6M42.1 358h2.6M77.18 589.6v-2.6M112.25 589.6v-2.6M147.33 589.6v-2.6" stroke="#262626" stroke-width="1.1"/><text transform="translate(0 595.8) scale(1 1.07)" x="27.05" y="0" class="tl">0</text><text transform="translate(0 557.2) scale(1 1.07)" x="0.77 9.94 14.53 23.7" y="0" class="tl">0.02</text><text transform="translate(0 518.6) scale(1 1.07)" x="0.77 9.94 14.53 23.7" y="0" class="tl">0.04</text><text transform="translate(0 480) scale(1 1.07)" x="0.77 9.94 14.53 23.7" y="0" class="tl">0.06</text><text transform="translate(0 441.4) scale(1 1.07)" x="0.77 9.94 14.53 23.7" y="0" class="tl">0.08</text><text transform="translate(0 402.8) scale(1 1.07)" x="11.28 20.46" y="0" class="tl">0.</text><path transform="translate(25.04 402.8)" d="M4.6 -12.7L6.2 -12.7L6.2 0L4.6 0L4.6 -8.85L1.8 -8.7L1.8 -10.1Q4 -10.3 4.6 -12.7Z"/><text transform="translate(0 364.2) scale(1 1.07)" x="0.77 9.94 23.7" y="0" class="tl">0.2</text><path transform="translate(14.53 364.2)" d="M4.6 -12.7L6.2 -12.7L6.2 0L4.6 0L4.6 -8.85L1.8 -8.7L1.8 -10.1Q4 -10.3 4.6 -12.7Z"/><path transform="translate(71.49 609.4)" d="M4.6 -12.7L6.2 -12.7L6.2 0L4.6 0L4.6 -8.85L1.8 -8.7L1.8 -10.1Q4 -10.3 4.6 -12.7Z"/><text transform="translate(0 609.4) scale(1 1.07)" x="106.56" y="0" class="tl">2</text><text transform="translate(0 609.4) scale(1 1.07)" x="141.64" y="0" class="tl">3</text>
<polyline points="73.7,498.8 108.6,488.5 143.5,478.6" fill="none" stroke="#000" stroke-width="1.3"/><path d="M73.7 454.1V544.2M67.4 454.1h12.6M67.4 544.2h12.6M108.6 440.8V536M102.3 440.8h12.6M102.3 536h12.6M143.5 433.9V523.6M137.2 433.9h12.6M137.2 523.6h12.6" stroke="#000" stroke-width="1.3"/><circle cx="73.7" cy="498.8" r="6.6" fill="none" stroke="#000" stroke-width="1.3"/><circle cx="108.6" cy="488.5" r="6.6" fill="none" stroke="#000" stroke-width="1.3"/><circle cx="143.5" cy="478.6" r="6.6" fill="none" stroke="#000" stroke-width="1.3"/>
<polyline points="80.5,516.7 115.3,508.7 150.4,504.5" fill="none" stroke="#000" stroke-width="1.3"/><path d="M80.5 486.2V547.4M74.2 486.2h12.6M74.2 547.4h12.6M115.3 478.6V539.6M109 478.6h12.6M109 539.6h12.6M150.4 469.4V540.1M144.1 469.4h12.6M144.1 540.1h12.6" stroke="#000" stroke-width="1.3"/><circle cx="80.5" cy="516.7" r="6.6" fill="#000" stroke="#000" stroke-width="1.3"/><circle cx="115.3" cy="508.7" r="6.6" fill="#000" stroke="#000" stroke-width="1.3"/><circle cx="150.4" cy="504.5" r="6.6" fill="#000" stroke="#000" stroke-width="1.3"/>
<path d="M231 358V589.6H371" fill="none" stroke="#262626" stroke-width="1.1"/><path d="M231 589.6h2.6M231 551h2.6M231 512.4h2.6M231 473.8h2.6M231 435.2h2.6M231 396.6h2.6M231 358h2.6M266 589.6v-2.6M301 589.6v-2.6M336 589.6v-2.6" stroke="#262626" stroke-width="1.1"/><text transform="translate(0 595.8) scale(1 1.07)" x="193.89 199.38 208.56" y="0" class="tl">-0.</text><path transform="translate(213.14 595.8)" d="M4.6 -12.7L6.2 -12.7L6.2 0L4.6 0L4.6 -8.85L1.8 -8.7L1.8 -10.1Q4 -10.3 4.6 -12.7Z"/><text transform="translate(0 557.2) scale(1 1.07)" x="215.95" y="0" class="tl">0</text><text transform="translate(0 518.6) scale(1 1.07)" x="200.18 209.36" y="0" class="tl">0.</text><path transform="translate(213.94 518.6)" d="M4.6 -12.7L6.2 -12.7L6.2 0L4.6 0L4.6 -8.85L1.8 -8.7L1.8 -10.1Q4 -10.3 4.6 -12.7Z"/><text transform="translate(0 480) scale(1 1.07)" x="200.18 209.36 213.94" y="0" class="tl">0.2</text><text transform="translate(0 441.4) scale(1 1.07)" x="200.18 209.36 213.94" y="0" class="tl">0.3</text><text transform="translate(0 402.8) scale(1 1.07)" x="200.18 209.36 213.94" y="0" class="tl">0.4</text><text transform="translate(0 364.2) scale(1 1.07)" x="200.18 209.36 213.94" y="0" class="tl">0.5</text><path transform="translate(260.31 609.4)" d="M4.6 -12.7L6.2 -12.7L6.2 0L4.6 0L4.6 -8.85L1.8 -8.7L1.8 -10.1Q4 -10.3 4.6 -12.7Z"/><text transform="translate(0 609.4) scale(1 1.07)" x="295.31" y="0" class="tl">2</text><text transform="translate(0 609.4) scale(1 1.07)" x="330.31" y="0" class="tl">3</text>
<polyline points="262.3,514.9 297.1,509.8 332.1,530.2" fill="none" stroke="#000" stroke-width="1.3"/><path d="M262.3 484.6V546.3M256 484.6h12.6M256 546.3h12.6M297.1 477.5V542.4M290.8 477.5h12.6M290.8 542.4h12.6M332.1 510.7V548.1M325.8 510.7h12.6M325.8 548.1h12.6" stroke="#000" stroke-width="1.3"/><circle cx="262.3" cy="514.9" r="6.6" fill="none" stroke="#000" stroke-width="1.3"/><circle cx="297.1" cy="509.8" r="6.6" fill="none" stroke="#000" stroke-width="1.3"/><circle cx="332.1" cy="530.2" r="6.6" fill="none" stroke="#000" stroke-width="1.3"/>
<polyline points="269.4,525.9 304.3,501.6 339.3,505.7" fill="none" stroke="#000" stroke-width="1.3"/><path d="M269.4 493.5V558M263.1 493.5h12.6M263.1 558h12.6M304.3 439.9V563M298 439.9h12.6M298 563h12.6M339.3 456.8V554.3M333 456.8h12.6M333 554.3h12.6" stroke="#000" stroke-width="1.3"/><circle cx="269.4" cy="525.9" r="6.6" fill="#000" stroke="#000" stroke-width="1.3"/><circle cx="304.3" cy="501.6" r="6.6" fill="#000" stroke="#000" stroke-width="1.3"/><circle cx="339.3" cy="505.7" r="6.6" fill="#000" stroke="#000" stroke-width="1.3"/>
<path d="M421.5 358V589.6H560" fill="none" stroke="#262626" stroke-width="1.1"/><path d="M421.5 589.6h2.6M421.5 531.7h2.6M421.5 473.8h2.6M421.5 415.9h2.6M421.5 358h2.6M456.12 589.6v-2.6M490.75 589.6v-2.6M525.38 589.6v-2.6" stroke="#262626" stroke-width="1.1"/><text transform="translate(0 595.8) scale(1 1.07)" x="406.45" y="0" class="tl">0</text><text transform="translate(0 537.9) scale(1 1.07)" x="390.68 399.86 404.44" y="0" class="tl">0.5</text><path transform="translate(406.45 480)" d="M4.6 -12.7L6.2 -12.7L6.2 0L4.6 0L4.6 -8.85L1.8 -8.7L1.8 -10.1Q4 -10.3 4.6 -12.7Z"/><text transform="translate(0 422.1) scale(1 1.07)" x="399.86 404.44" y="0" class="tl">.5</text><path transform="translate(390.68 422.1)" d="M4.6 -12.7L6.2 -12.7L6.2 0L4.6 0L4.6 -8.85L1.8 -8.7L1.8 -10.1Q4 -10.3 4.6 -12.7Z"/><text transform="translate(0 364.2) scale(1 1.07)" x="406.45" y="0" class="tl">2</text><path transform="translate(450.44 609.4)" d="M4.6 -12.7L6.2 -12.7L6.2 0L4.6 0L4.6 -8.85L1.8 -8.7L1.8 -10.1Q4 -10.3 4.6 -12.7Z"/><text transform="translate(0 609.4) scale(1 1.07)" x="485.06" y="0" class="tl">2</text><text transform="translate(0 609.4) scale(1 1.07)" x="519.69" y="0" class="tl">3</text>
<polyline points="452.7,514.5 487,518.7 521.4,507.7" fill="none" stroke="#000" stroke-width="1.3"/><path d="M452.7 487V542.8M446.4 487h12.6M446.4 542.8h12.6M487 499.6V538.2M480.7 499.6h12.6M480.7 538.2h12.6M521.4 467.1V548.3M515.1 467.1h12.6M515.1 548.3h12.6" stroke="#000" stroke-width="1.3"/><circle cx="452.7" cy="514.5" r="6.6" fill="none" stroke="#000" stroke-width="1.3"/><circle cx="487" cy="518.7" r="6.6" fill="none" stroke="#000" stroke-width="1.3"/><circle cx="521.4" cy="507.7" r="6.6" fill="none" stroke="#000" stroke-width="1.3"/>
<polyline points="459.4,500.8 494,523 528.3,499.2" fill="none" stroke="#000" stroke-width="1.3"/><path d="M459.4 468.2V533.6M453.1 468.2h12.6M453.1 533.6h12.6M494 501.5V544.4M487.7 501.5h12.6M487.7 544.4h12.6M528.3 456.7V540.9M522 456.7h12.6M522 540.9h12.6" stroke="#000" stroke-width="1.3"/><circle cx="459.4" cy="500.8" r="6.6" fill="#000" stroke="#000" stroke-width="1.3"/><circle cx="494" cy="523" r="6.6" fill="#000" stroke="#000" stroke-width="1.3"/><circle cx="528.3" cy="499.2" r="6.6" fill="#000" stroke="#000" stroke-width="1.3"/>
<path d="M610.4 358V589.6H751" fill="none" stroke="#262626" stroke-width="1.1"/><path d="M610.4 589.6h2.6M610.4 556.51h2.6M610.4 523.43h2.6M610.4 490.34h2.6M610.4 457.26h2.6M610.4 424.17h2.6M610.4 391.09h2.6M610.4 358h2.6M645.55 589.6v-2.6M680.7 589.6v-2.6M715.85 589.6v-2.6" stroke="#262626" stroke-width="1.1"/><text transform="translate(0 595.8) scale(1 1.07)" x="578.54 584.03 593.21" y="0" class="tl">-40</text><text transform="translate(0 562.71) scale(1 1.07)" x="578.54 584.03 593.21" y="0" class="tl">-35</text><text transform="translate(0 529.63) scale(1 1.07)" x="578.54 584.03 593.21" y="0" class="tl">-30</text><text transform="translate(0 496.54) scale(1 1.07)" x="578.54 584.03 593.21" y="0" class="tl">-25</text><text transform="translate(0 463.46) scale(1 1.07)" x="578.54 584.03 593.21" y="0" class="tl">-20</text><text transform="translate(0 430.37) scale(1 1.07)" x="578.54 593.21" y="0" class="tl">-5</text><path transform="translate(584.03 430.37)" d="M4.6 -12.7L6.2 -12.7L6.2 0L4.6 0L4.6 -8.85L1.8 -8.7L1.8 -10.1Q4 -10.3 4.6 -12.7Z"/><text transform="translate(0 397.29) scale(1 1.07)" x="578.54 593.21" y="0" class="tl">-0</text><path transform="translate(584.03 397.29)" d="M4.6 -12.7L6.2 -12.7L6.2 0L4.6 0L4.6 -8.85L1.8 -8.7L1.8 -10.1Q4 -10.3 4.6 -12.7Z"/><text transform="translate(0 364.2) scale(1 1.07)" x="589.06 594.55" y="0" class="tl">-5</text><path transform="translate(639.86 609.4)" d="M4.6 -12.7L6.2 -12.7L6.2 0L4.6 0L4.6 -8.85L1.8 -8.7L1.8 -10.1Q4 -10.3 4.6 -12.7Z"/><text transform="translate(0 609.4) scale(1 1.07)" x="675.01" y="0" class="tl">2</text><text transform="translate(0 609.4) scale(1 1.07)" x="710.16" y="0" class="tl">3</text>
<polyline points="642,413.1 676.7,403.2 711.3,395.2" fill="none" stroke="#000" stroke-width="1.3"/><path d="M642 390.1V436.7M635.7 390.1h12.6M635.7 436.7h12.6M676.7 372.5V433.7M670.4 372.5h12.6M670.4 433.7h12.6M711.3 358V435.3M705 435.3h12.6" stroke="#000" stroke-width="1.3"/><circle cx="642" cy="413.1" r="6.6" fill="none" stroke="#000" stroke-width="1.3"/><circle cx="676.7" cy="403.2" r="6.6" fill="none" stroke="#000" stroke-width="1.3"/><circle cx="711.3" cy="395.2" r="6.6" fill="none" stroke="#000" stroke-width="1.3"/>
<polyline points="648.5,417.7 683.5,428 718.3,403.9" fill="none" stroke="#000" stroke-width="1.3"/><path d="M648.5 391.3V444.5M642.2 391.3h12.6M642.2 444.5h12.6M683.5 398.2V458.5M677.2 398.2h12.6M677.2 458.5h12.6M718.3 380.5V428M712 380.5h12.6M712 428h12.6" stroke="#000" stroke-width="1.3"/><circle cx="648.5" cy="417.7" r="6.6" fill="#000" stroke="#000" stroke-width="1.3"/><circle cx="683.5" cy="428" r="6.6" fill="#000" stroke="#000" stroke-width="1.3"/><circle cx="718.3" cy="403.9" r="6.6" fill="#000" stroke="#000" stroke-width="1.3"/>
<text x="15.5" y="22.5" class="tt">response (deg^2)</text><text x="217.6" y="14.8" class="tt">K</text><text x="232.6" y="22.6" class="tt sub">p</text><text x="243.6" y="14.8" class="tt">/mgh (1/deg)</text><text x="408" y="14.9" class="tt">K</text><text x="422.8" y="22.7" class="tt sub">d</text><text x="434.5" y="14.9" class="tt">/mgh (s/deg)</text><path d="M658.3 17.8Q659.6 14.1 663.2 14.1L669.9 14.1L669.4 16L663.8 16Q661.3 16 659.9 17.8ZM663.7 15.3L666.3 15.3L664.1 22.9L661.4 22.9Z" fill="#000"/><text x="673" y="22.7" class="tt">(s)</text><text x="73.5" y="341.3" class="tt">W</text><text x="95" y="350.3" class="tt sub">v</text><text x="111.5" y="341.6" class="tt">(%)</text><text x="235.8" y="341.4" class="tt">K</text><text x="250.3" y="350.1" class="tt sub">t</text><text x="264.5" y="341.4" class="tt">(deg/Nm)</text><path fill-rule="evenodd" fill="#000" d="M484.3 353.6L488.1 340.6Q489.2 336.3 492.6 335.7Q496.6 335.2 497.3 338.2Q497.6 340.9 495.1 341.9Q497.3 343.1 496.9 346.3Q496.3 350.1 491.2 350.2Q489 350.2 487.8 348.3L486.8 353.6ZM489.8 341.1L490.8 338.2Q491.6 336.9 493.6 336.9Q495.5 337.2 495.2 338.6Q494.9 340.6 492.4 341.4ZM489.2 343.2Q490.5 342.6 492.4 342.6Q494.7 343 494.5 345.3Q494.2 348.5 491.4 348.8Q489.6 348.9 489.1 347.9Z"/><text x="643.5" y="349.3" class="tt">SimErr</text>
<rect x="618.6" y="528.9" width="123" height="47.4" fill="#fff" stroke="#262626" stroke-width="1.1"/><path d="M625.4 542.2H690.4M657.9 534.5V549.5M651.6 534.5h12.6M651.6 549.5h12.6" stroke="#000" stroke-width="1.3"/><circle cx="657.9" cy="542.2" r="6.6" fill="none" stroke="#000" stroke-width="1.3"/><text transform="translate(695.5 547.2) scale(1 1.06)" class="lg">day</text><path transform="translate(719.67 547.2) scale(0.91 0.95)" d="M4.6 -12.7L6.2 -12.7L6.2 0L4.6 0L4.6 -8.85L1.8 -8.7L1.8 -10.1Q4 -10.3 4.6 -12.7Z"/><path d="M625.4 563.2H690.4M657.9 555.5V570.5M651.6 555.5h12.6M651.6 570.5h12.6" stroke="#000" stroke-width="1.3"/><circle cx="657.9" cy="563.2" r="6.6" fill="#000" stroke="#000" stroke-width="1.3"/><text transform="translate(695.5 568.2) scale(1 1.06)" class="lg">day2</text>
</svg></body></html>
